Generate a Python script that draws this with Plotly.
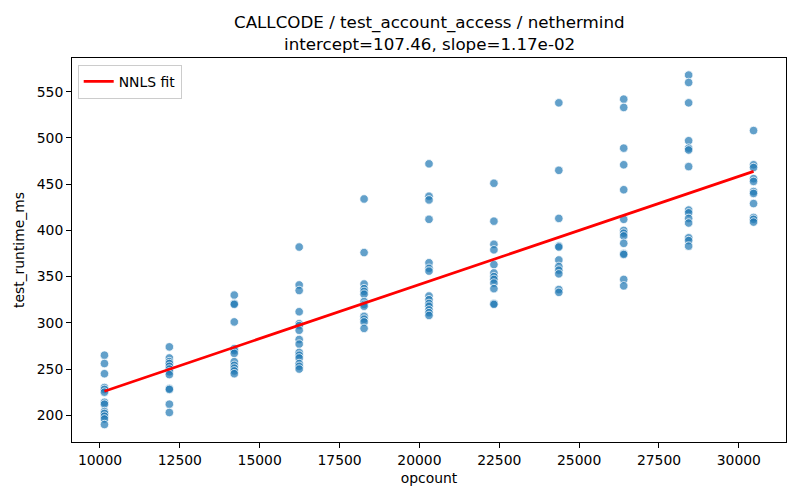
import plotly.graph_objects as go

# Fit parameters shown in the title
intercept = 107.46
slope = 1.17e-02

# opcount levels (x) and test runtimes (ms) measured at each level
opcounts = [10140, 12172, 14204, 16236, 18268, 20300, 22332, 24364, 26396, 28428, 30460]

rt_10140 = [265, 256, 245, 230, 228, 225, 214, 212, 204, 202, 199, 196, 190]
rt_12172 = [274, 262, 258, 256, 253, 250, 247, 244, 229, 228, 212, 203]
rt_14204 = [330, 321, 320, 301, 272, 270, 267, 258, 254, 251, 248, 245]
rt_16236 = [382, 341, 335, 312, 299, 297, 292, 282, 277, 268, 265, 262, 256, 253, 250]
rt_18268 = [434, 376, 342, 337, 334, 331, 323, 320, 318, 307, 304, 301, 294]
rt_20300 = [472, 437, 433, 412, 365, 359, 356, 329, 325, 321, 318, 314, 311, 308]
rt_22332 = [451, 410, 385, 379, 363, 354, 350, 347, 343, 337, 321, 320]
rt_24364 = [538, 465, 413, 383, 382, 368, 361, 357, 353, 336, 333]
rt_26396 = [542, 533, 489, 471, 444, 412, 400, 397, 394, 386, 375, 374, 347, 340]
rt_28428 = [568, 560, 538, 497, 489, 487, 469, 422, 419, 413, 408, 392, 389, 383]
rt_30460 = [508, 471, 468, 456, 453, 442, 440, 429, 414, 412, 409]

runtimes = [rt_10140, rt_12172, rt_14204, rt_16236, rt_18268, rt_20300,
            rt_22332, rt_24364, rt_26396, rt_28428, rt_30460]

x_ticks = [10000, 12500, 15000, 17500, 20000, 22500, 25000, 27500, 30000]
y_ticks = [200, 250, 300, 350, 400, 450, 500, 550]

xs, ys = [], []
for oc, vals in zip(opcounts, runtimes):
    xs += [oc] * len(vals)
    ys += vals

x_line = [min(opcounts), max(opcounts)]
y_line = [intercept + slope * v for v in x_line]

fig = go.Figure()

fig.add_trace(go.Scatter(
    x=xs, y=ys,
    mode="markers",
    marker=dict(size=8.5, color="rgba(31,119,180,0.7)",
                line=dict(color="white", width=0.75)),
    showlegend=False,
))

fig.add_trace(go.Scatter(
    x=x_line, y=y_line,
    mode="lines",
    name="NNLS fit",
    line=dict(color="red", width=2.7),
))

axis_style = dict(
    showline=True, mirror=True, linecolor="black", linewidth=1,
    ticks="outside", ticklen=5, tickwidth=1, tickcolor="black",
    showgrid=False, zeroline=False, automargin=False,
    tickfont=dict(size=13.9, color="black"),
)

M_L, M_R, M_T, M_B = 72, 14, 58, 58

fig.update_layout(
    width=800, height=500,
    margin=dict(l=M_L, r=M_R, t=M_T, b=M_B),
    plot_bgcolor="white", paper_bgcolor="white",
    font=dict(family="DejaVu Sans", size=13.9, color="black"),
    xaxis=dict(axis_style, range=[9124, 31476],
               tickvals=x_ticks, ticktext=[str(t) for t in x_ticks],
               title=dict(text="opcount", font=dict(size=13.9), standoff=6)),
    yaxis=dict(axis_style, range=[171.1, 586.5],
               tickvals=y_ticks, ticktext=[str(t) for t in y_ticks],
               title=dict(text="test_runtime_ms", font=dict(size=13.9), standoff=8)),
    legend=dict(x=0.008, y=0.982, xanchor="left", yanchor="top",
                bgcolor="rgba(255,255,255,0.8)", bordercolor="#cccccc",
                borderwidth=1, font=dict(size=13.9)),
)

# title lines, placed by pixel row
plot_h = 500 - M_T - M_B
for text, row in [("CALLCODE / test_account_access / nethermind", 22),
                  (f"intercept={intercept:.2f}, slope={slope:.2e}", 44)]:
    fig.add_annotation(text=text, x=0.5, xref="paper",
                       y=1 + (M_T - row) / plot_h, yref="paper",
                       yanchor="middle", showarrow=False,
                       font=dict(size=16.7))

fig.write_html("out.html", config={"displayModeBar": False},
               post_script="document.body.style.margin='0';")
